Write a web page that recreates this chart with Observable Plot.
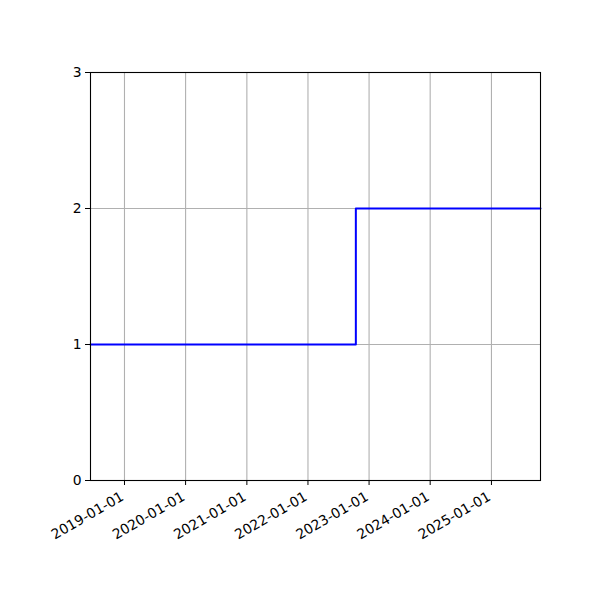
<!DOCTYPE html>
<html><head><meta charset="utf-8">
<script src="https://cdn.jsdelivr.net/npm/d3@7"></script>
<script src="https://cdn.jsdelivr.net/npm/@observablehq/plot@0.6"></script>
<style>body{margin:0;background:#fff}</style>
</head><body><div id="chart"></div>
<script>
const dates = ["2018-06-12", "2022-10-14", "2025-10-21"];
const values = [1, 2, 2];
const yTicks = [0, 1, 2, 3];
const xTickDates = ["2019-01-01","2020-01-01","2021-01-01","2022-01-01","2023-01-01","2024-01-01","2025-01-01"];

const data = dates.map((d, i) => ({date: new Date(d + "T00:00:00Z"), value: values[i]}));
const xTicks = xTickDates.map(d => new Date(d + "T00:00:00Z"));
const fmt = d3.utcFormat("%Y-%m-%d");

const chart = Plot.plot({
  width: 600, height: 600,
  marginLeft: 90, marginRight: 60, marginTop: 72, marginBottom: 120,
  style: {fontFamily: "DejaVu Sans", fontSize: "13.9px", color: "#000", background: "#fff"},
  x: {type: "utc", domain: [data[0].date, data[data.length-1].date]},
  y: {domain: [0, 3]},
  marks: [
    Plot.gridX(xTicks, {stroke: "#b0b0b0", strokeOpacity: 1, strokeWidth: 1.1}),
    Plot.gridY(yTicks, {stroke: "#b0b0b0", strokeOpacity: 1, strokeWidth: 1.1}),
    Plot.line(data, {x: "date", y: "value", curve: "step-after", stroke: "#0000ff", strokeWidth: 2}),
    Plot.axisX({ticks: xTicks, tickFormat: () => "", tickSize: 5, label: null, stroke: "#000"}),
    Plot.axisX({ticks: xTicks, tickFormat: fmt, tickRotate: -30, tickSize: 0, tickPadding: 9, label: null, fill: "#000", dx: -2, dy: 6}),
    Plot.axisY({ticks: yTicks, tickFormat: d3.format("d"), tickSize: 5, tickPadding: 4, label: null, fill: "#000", stroke: "#000"}),
    Plot.frame({stroke: "#000", strokeWidth: 1.1})
  ]
});
document.getElementById("chart").appendChild(chart);
</script></body></html>
